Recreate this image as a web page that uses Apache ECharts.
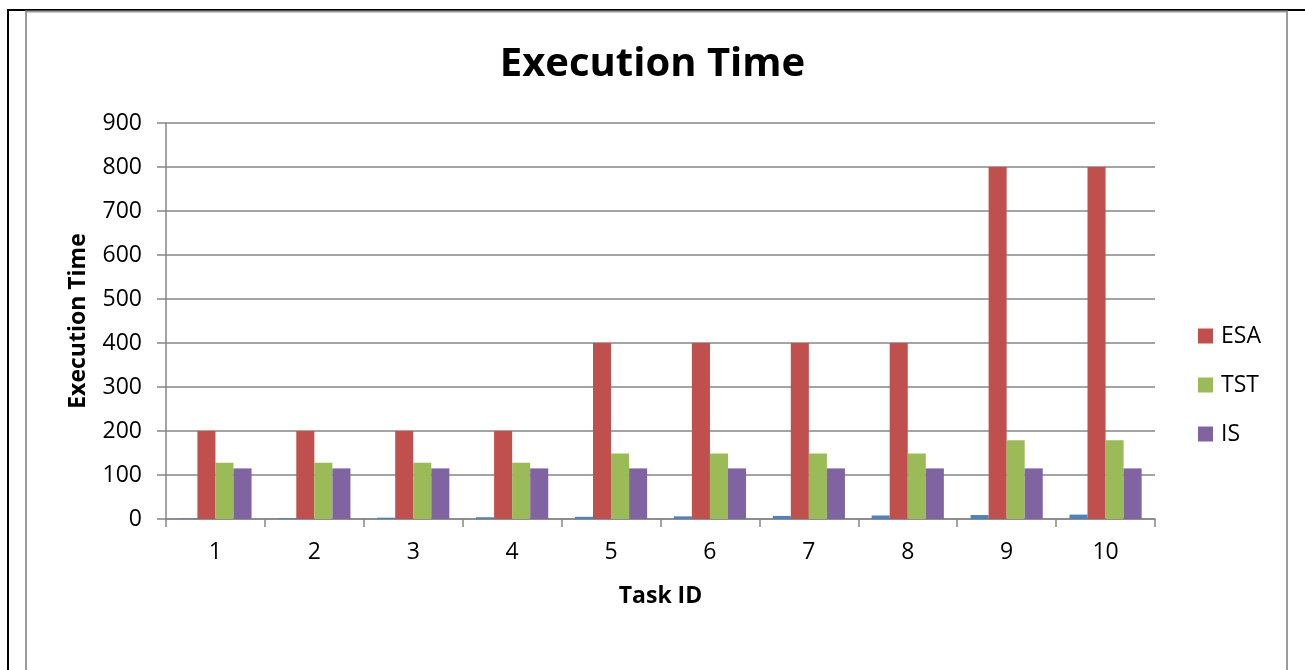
<!DOCTYPE html>
<html>
<head>
<meta charset="utf-8">
<script src="https://cdn.jsdelivr.net/npm/echarts@6/dist/echarts.min.js"></script>
<style>
html,body{margin:0;padding:0;background:#fff;}
#chart{width:1305px;height:670px;}
</style>
</head>
<body>
<div id="chart"></div>
<script>
const categories = ['1','2','3','4','5','6','7','8','9','10'];
const taskValues = [1,2,3,4,5,6,7,8,9,10];
const esaValues = [200,200,200,200,400,400,400,400,800,800];
const tstValues = [128,128,128,128,149,149,149,149,179,179];
const isValues  = [115,115,115,115,115,115,115,115,115,115];
const yTicks = [0,100,200,300,400,500,600,700,800,900];

const FONT = '"Open Sans", "Liberation Sans", sans-serif';
const chart = echarts.init(document.getElementById('chart'), null, {renderer:'canvas'});
chart.setOption({
  animation: false,
  backgroundColor: '#fff',
  textStyle: {fontFamily: FONT},
  title: {
    text: 'Execution Time',
    left: 'center',
    top: 40,
    textStyle: {fontFamily: FONT, fontSize: 40, fontWeight: 'bold', color: '#000'}
  },
  graphic: [
    {type:'line', shape:{x1:8, y1:10, x2:1305, y2:10}, style:{stroke:'#000', lineWidth:2}},
    {type:'line', shape:{x1:8, y1:9, x2:8, y2:670}, style:{stroke:'#000', lineWidth:2}},
    {type:'rect', shape:{x:26, y:11.5, width:1261, height:700}, style:{fill:'none', stroke:'#9a9a9a', lineWidth:2}}
  ],
  legend: {
    orient: 'vertical',
    left: 1198,
    top: 324,
    itemWidth: 15,
    itemHeight: 15,
    itemGap: 25,
    padding: 0,
    data: ['ESA','TST','IS'],
    icon: 'rect',
    textStyle: {fontFamily: FONT, fontSize: 23, color: '#000', lineHeight: 24, padding: [0,0,0,3]}
  },
  grid: {left: 166, right: 150, top: 123, bottom: 151, containLabel: false},
  xAxis: {
    type: 'category',
    data: categories,
    name: 'Task ID',
    nameLocation: 'middle',
    nameGap: 66,
    nameTextStyle: {fontFamily: FONT, fontSize: 23, fontWeight: 'bold', color: '#000'},
    axisLine: {lineStyle: {color: '#868686', width: 1.5}},
    axisTick: {show: true, length: 8, lineStyle: {color: '#868686', width: 1.5}},
    axisLabel: {fontFamily: FONT, fontSize: 23, color: '#000', margin: 22}
  },
  yAxis: {
    type: 'value',
    min: yTicks[0],
    max: yTicks[yTicks.length-1],
    interval: 100,
    name: 'Execution Time',
    nameLocation: 'middle',
    nameRotate: 90,
    nameGap: 88,
    nameTextStyle: {fontFamily: FONT, fontSize: 23, fontWeight: 'bold', color: '#000', verticalAlign: 'middle'},
    axisLine: {show: true, lineStyle: {color: '#868686', width: 1.5}},
    axisTick: {show: true, length: 9, lineStyle: {color: '#868686', width: 1.5}},
    axisLabel: {fontFamily: FONT, fontSize: 23, color: '#000', margin: 24},
    splitLine: {lineStyle: {color: '#868686', width: 1.5}}
  },
  series: [
    {name:'Task', type:'bar', data: taskValues, barGap:'0%', barCategoryGap:'27%', itemStyle:{color:'#4F81BD'}},
    {name:'ESA', type:'bar', data: esaValues, barGap:'0%', barCategoryGap:'27%', itemStyle:{color:'#C0504D'}},
    {name:'TST', type:'bar', data: tstValues, barGap:'0%', barCategoryGap:'27%', itemStyle:{color:'#9BBB59'}},
    {name:'IS', type:'bar', data: isValues, barGap:'0%', barCategoryGap:'27%', itemStyle:{color:'#8064A2'}}
  ]
});
</script>
</body>
</html>
